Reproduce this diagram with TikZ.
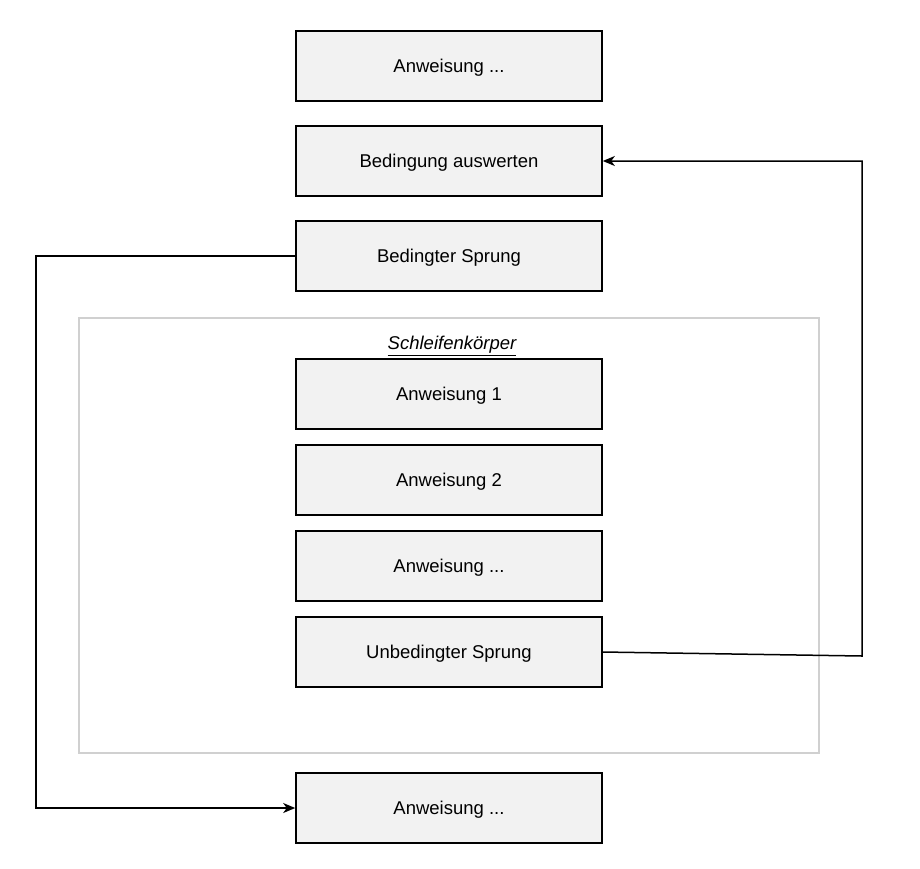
\documentclass[tikz,border=0pt]{standalone}
\usepackage{fontspec}
\setmainfont{Liberation Sans}
\usepackage{tikz}
\usetikzlibrary{positioning,arrows.meta}

\definecolor{boxfill}{HTML}{F2F2F2}
\definecolor{framegray}{HTML}{D0D0D0}

\tikzset{
  stepbox/.style={draw=black, line width=1.6pt, fill=boxfill, minimum width=306pt,
    minimum height=70pt, inner sep=0pt, text depth=0pt, font=\fontsize{18.5}{22}\selectfont},
  jump/.style={draw=black, line width=1.5pt},
  jumptip/.style={-{Stealth[length=12pt,width=10pt,inset=3.5pt]}}
}

\begin{document}
\begin{tikzpicture}[x=1pt,y=-1pt]
  \useasboundingbox (0,0) rectangle (920,868);
  % frame of the loop body
  \draw[framegray, line width=1.3pt] (79,318) rectangle (819,753);
  \node[font=\fontsize{18.5}{22}\selectfont\itshape, text depth=0pt] (body) at (452,343) {\underline{Schleifenkörper}};

  \node[stepbox] (a0) at (449,66) {Anweisung ...};
  \node[stepbox, below=23.4pt of a0] (cond) {Bedingung auswerten};
  \node[stepbox, below=23.4pt of cond] (cjmp) {Bedingter Sprung};
  \node[stepbox] (a1) at (449,394) {Anweisung 1};
  \node[stepbox, below=14.4pt of a1] (a2) {Anweisung 2};
  \node[stepbox, below=14.4pt of a2] (a3) {Anweisung ...};
  \node[stepbox, below=14.4pt of a3] (ujmp) {Unbedingter Sprung};
  \node[stepbox] (after) at (449,808) {Anweisung ...};

  % connectors
  \coordinate (left) at (36,258);
  \coordinate (right) at (862,656);
  \draw[jump, jumptip] (cjmp.west) -- (cjmp.west -| left) |- (after.west);
  \draw[jump, jumptip] (ujmp.east) -- (right) |- (cond.east);
\end{tikzpicture}
\end{document}
